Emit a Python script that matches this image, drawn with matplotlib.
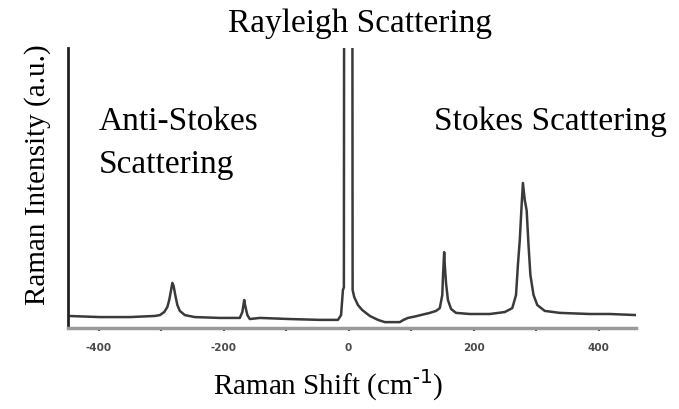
import matplotlib
matplotlib.use('Agg')
import matplotlib.pyplot as plt

# spectrum (shift in cm^-1, intensity in arbitrary units)
shift = [-449, -398, -350, -310, -302, -295, -290, -287, -284, -282, -280, -277, -274, -270,
         -262, -246, -206, -174, -170, -167, -166, -162, -158, -142, -94, -46, -17, -12, -9,
         -7.5, -7, 6, 6.5, 9, 15, 22, 34, 47, 58, 82, 88, 95, 106, 130, 140, 146, 150, 151, 153,
         154, 156, 159, 164, 172, 194, 226, 250, 262, 268, 271, 274, 277, 279, 282, 285, 288,
         291, 296, 302, 314, 338, 386, 418, 462]
intensity = [4.3, 3.9, 3.9, 4.3, 4.6, 5.7, 7.5, 10, 13.6, 16.1, 15, 11.4, 8.2, 6.1,
             4.6, 3.9, 3.6, 3.6, 5.7, 10, 8.6, 4.6, 3.2, 3.6, 3.2, 2.9, 2.9, 4.6, 13.6,
             14.5, 150, 150, 13.6, 11.1, 8.2, 6.4, 4.3, 2.9, 2.1, 2.1, 2.9, 3.6, 4.1, 5.4, 6.1, 7.1, 11.8, 17.9, 27.1,
             22.5, 16, 10, 6.8, 5.4, 5, 5, 5.7, 7.1, 11.8, 22.5, 31.4, 44, 51.8, 45.7, 42, 29.6,
             18.9, 11.8, 8.2, 6.1, 5.4, 5, 5, 4.6]

major_ticks = [-400, -200, 0, 200, 400]
minor_ticks = [-300, -100, 100, 300]
tick_labels = ['-400', '-200', '0', '200', '400']

plt.rcParams['font.family'] = ['Liberation Serif', 'DejaVu Serif']
plt.rcParams['axes.unicode_minus'] = False

W, H = 679, 409
fig = plt.figure(figsize=(W / 100, H / 100), dpi=100)


def px(x, y):
    return x / W, 1 - y / H


ax = fig.add_axes([68 / W, 1 - 328 / H, (636 - 68) / W, (328 - 48) / H])
ax.plot(shift, intensity, color='#3a3a3a', lw=1.8, solid_joinstyle='round')
ax.set_xlim(-449, 460)
ax.set_ylim(0, 100)

ax.spines['top'].set_visible(False)
ax.spines['right'].set_visible(False)
ax.spines['left'].set_color('#222222')
ax.spines['left'].set_linewidth(2)
ax.spines['bottom'].set_color('#9a9a9a')
ax.spines['bottom'].set_linewidth(2.5)

ax.set_yticks([])
ax.set_xticks(major_ticks)
ax.set_xticks(minor_ticks, minor=True)
ax.set_xticklabels(tick_labels, fontsize=7.5, fontweight='bold', color='#4a4a4a',
                   family='DejaVu Sans')
ax.tick_params(axis='x', which='both', direction='out', length=2.5, width=1.5,
               color='#444444', pad=8)

fig.text(*px(360, 32), 'Rayleigh Scattering', ha='center', va='baseline', fontsize=24)
fig.text(*px(99, 130), 'Anti-Stokes', ha='left', va='baseline', fontsize=24)
fig.text(*px(99, 173), 'Scattering', ha='left', va='baseline', fontsize=24)
fig.text(*px(434, 130), 'Stokes Scattering', ha='left', va='baseline', fontsize=24)
fig.text(*px(38, 175), 'Raman Intensity (a.u.)', ha='center', va='center',
         rotation=90, fontsize=21)
fig.text(*px(328, 395), 'Raman Shift (cm$^{\\mathregular{\u2010}1}$)', ha='center',
         va='baseline', fontsize=21)

fig.savefig('out.png', dpi=100, facecolor='white')
